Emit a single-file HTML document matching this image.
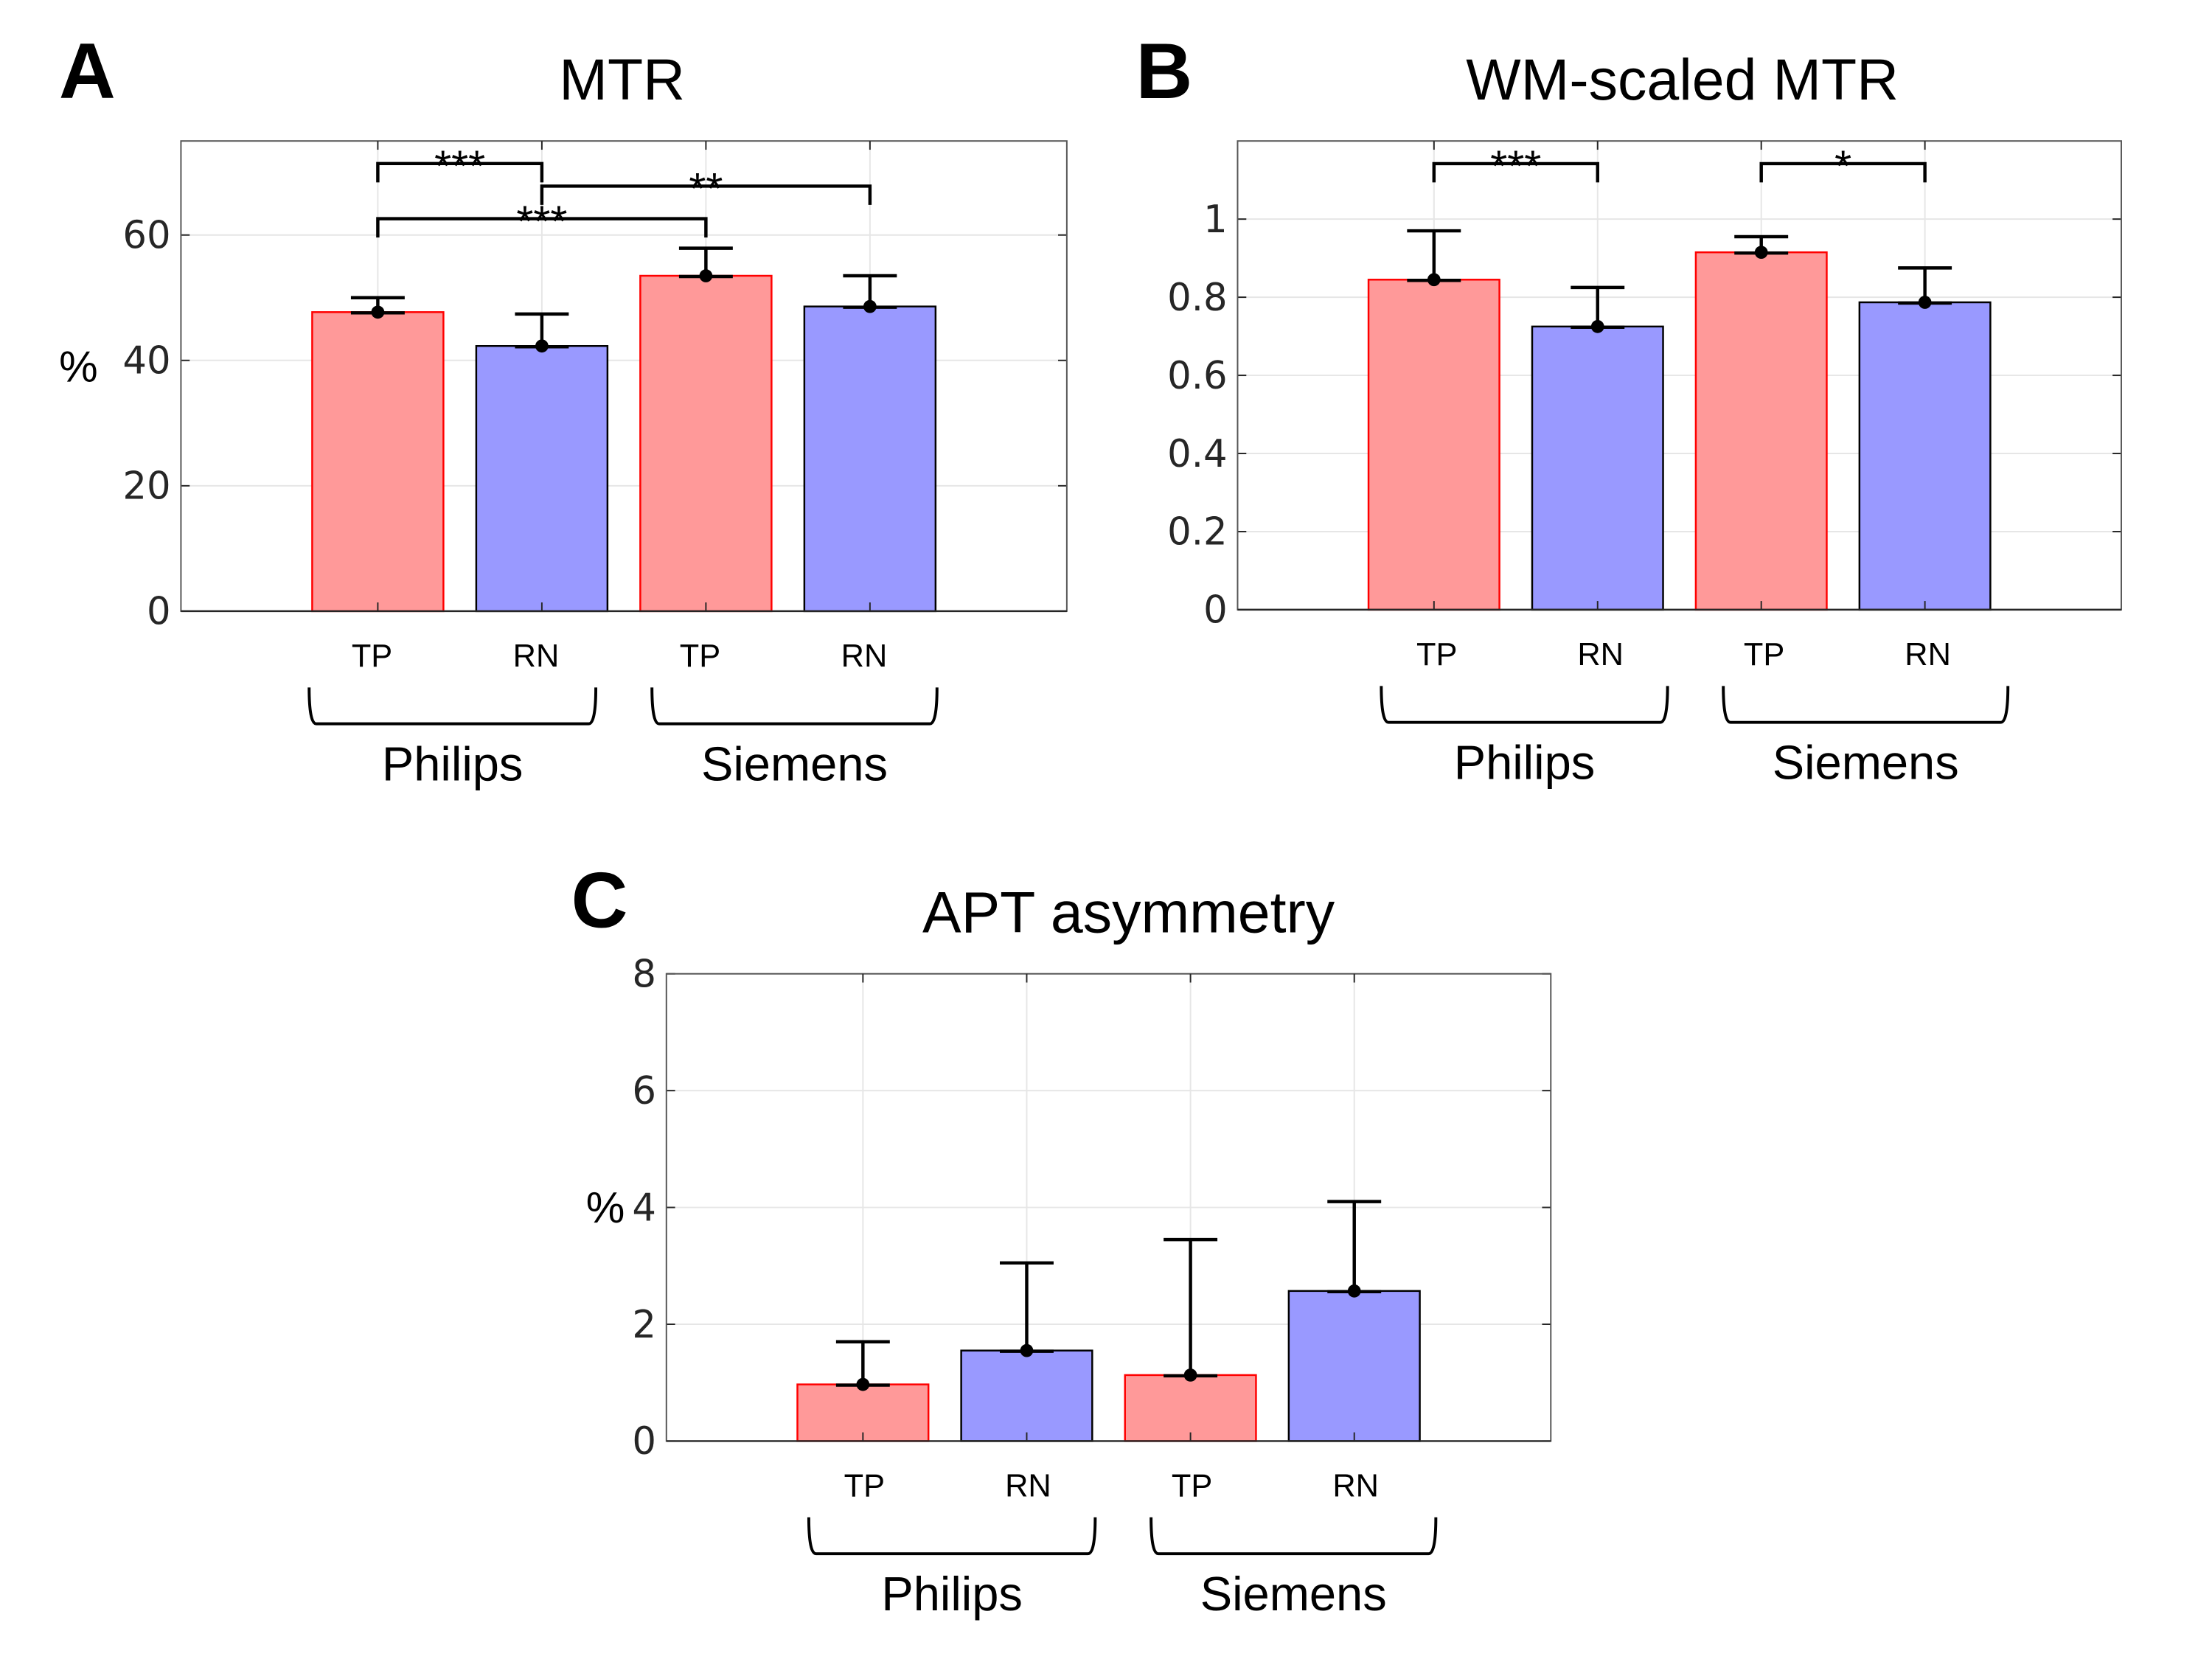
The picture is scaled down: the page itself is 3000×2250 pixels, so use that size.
<!DOCTYPE html>
<html><head><meta charset="utf-8">
<style>
html,body{margin:0;padding:0;background:#fff;}
svg{display:block;}
text{font-family:"Liberation Sans",sans-serif;fill:#000;}
.tick{font-family:"DejaVu Sans","Liberation Sans",sans-serif;fill:#262626;}
</style></head>
<body>
<svg id="fig" width="3000" height="2250" viewBox="0 0 3000 2250" xmlns="http://www.w3.org/2000/svg"><g id="root" transform="scale(0.9856)"></g></svg>
<script>
const categories = ["TP","RN","TP","RN"];
const groups = ["Philips","Siemens"];
const mtrValues = [47.7, 42.3, 53.5, 48.6];
const mtrErrTop = [50.0, 47.4, 57.9, 53.5];
const mtrTicks = [0, 20, 40, 60];
const wmValues = [0.845, 0.725, 0.915, 0.787];
const wmErrTop = [0.97, 0.825, 0.955, 0.875];
const wmTicks = [0, 0.2, 0.4, 0.6, 0.8, 1];
const wmTickLabels = ["0","0.2","0.4","0.6","0.8","1"];
const aptValues = [0.97, 1.55, 1.13, 2.57];
const aptErrTop = [1.7, 3.05, 3.45, 4.1];
const aptTicks = [0, 2, 4, 6, 8];
const mtrSig = [[0,1,71.4,"***"],[1,3,67.8,"**"],[0,2,62.6,"***"]];
const wmSig = [[0,1,1.142,"***"],[2,3,1.142,"*"]];

const NS="http://www.w3.org/2000/svg";
const svg=document.getElementById('root');
function mk(tag,attrs,parent){const e=document.createElementNS(NS,tag);for(const k in attrs)e.setAttribute(k,attrs[k]);(parent||svg).appendChild(e);return e;}

function panel(o){
  const g=mk('g',{});
  
  
  const xs=v=>o.L+(v+0.2)/5.4*(o.R-o.L);
  const ys=v=>o.B-(v/o.ymax)*(o.B-o.T);
  o.ticks.forEach((t,i)=>{
    const y=ys(t);
    if(t>0){const l=mk('line',{x1:o.L,x2:o.R,y1:y,y2:y,stroke:'#e6e6e6','stroke-width':2},g);
      }
    const tk=mk('line',{x1:o.L,x2:o.L+12,y1:y,y2:y,stroke:'#262626','stroke-width':2},g);
    
    mk('line',{x1:o.R,x2:o.R-12,y1:y,y2:y,stroke:'#262626','stroke-width':2},g);
    const tx=mk('text',{x:o.L-14,y:y+18,'text-anchor':'end','font-size':52,class:'tick'},g);
    tx.textContent=o.tickLabels?o.tickLabels[i]:String(t);
    
  });
  categories.forEach((c,i)=>{
    const x=xs(i+1);
    const l=mk('line',{x1:x,x2:x,y1:o.T,y2:o.B,stroke:'#e6e6e6','stroke-width':2},g);
    
  });
  o.values.forEach((v,i)=>{
    const cx=xs(i+1),w=0.8/5.4*(o.R-o.L);
    const red=(i%2===0);
    const r=mk('rect',{x:cx-w/2,y:ys(v),width:w,height:o.B-ys(v),fill:red?'#ff9999':'#9999ff',stroke:red?'#ff0000':'#000','stroke-width':2.5},g);
    
    
  });
  const bx=mk('rect',{x:o.L,y:o.T,width:o.R-o.L,height:o.B-o.T,fill:'none',stroke:'#555','stroke-width':2},g);
  
  mk('line',{x1:o.L,x2:o.R,y1:o.B,y2:o.B,stroke:'#262626','stroke-width':2.5},g);
  categories.forEach((c,i)=>{
    const x=xs(i+1);
    mk('line',{x1:x,x2:x,y1:o.B,y2:o.B-12,stroke:'#262626','stroke-width':2},g);
    mk('line',{x1:x,x2:x,y1:o.T,y2:o.T+12,stroke:'#262626','stroke-width':2},g);
  });
  o.values.forEach((v,i)=>{
    const cx=xs(i+1),yt=ys(o.errTop[i]),yb=ys(v);
    const e=mk('path',{d:`M${cx},${yb}V${yt}M${cx-37},${yt}H${cx+37}M${cx-37},${yb+1}H${cx+37}`,stroke:'#000','stroke-width':4.5,fill:'none'},g);
    
    const d=mk('circle',{cx:cx,cy:yb,r:9,fill:'#000'},g);
    
  });
  (o.sig||[]).forEach(s=>{
    const x1=xs(s[0]+1),x2=xs(s[1]+1),y=ys(s[2]),drop=(o.B-o.T)*0.04;
    const p=mk('path',{d:`M${x1},${y+drop}V${y}H${x2}V${y+drop}`,stroke:'#000','stroke-width':4.5,fill:'none'},g);
    
    const t=mk('text',{x:(x1+x2)/2,y:y+24,'text-anchor':'middle','font-size':60},g);
    t.textContent=s[3];
    
  });
  categories.forEach((c,i)=>{
    const t=mk('text',{x:xs(i+1)-4+o.lshift,y:o.B+76,'text-anchor':'middle','font-size':44},g);
    t.textContent=c;
    
  });
  const sh=o.bshift;
  const gb=[[xs(1)-0.42*225+sh,xs(2)+0.33*225+sh],[xs(3)-0.33*225+sh,xs(4)+0.41*225+sh]];
  gb.forEach((b,k)=>{
    const y1=o.B+105,y2=o.B+155;
    const p=mk('path',{d:`M${b[0]},${y1}Q${b[0]},${y2} ${b[0]+10},${y2}H${b[1]-10}Q${b[1]},${y2} ${b[1]},${y1}`,stroke:'#000','stroke-width':4,fill:'none'},g);
    
    const t=mk('text',{x:(b[0]+b[1])/2,y:o.B+233,'text-anchor':'middle','font-size':66},g);
    t.textContent=groups[k];
    
  });
  const tt=mk('text',{x:o.titleX,y:o.titleY,'text-anchor':'middle','font-size':80},g);
  tt.textContent=o.title;
  const lt=mk('text',{x:o.letterX,y:o.letterY,'text-anchor':'middle','font-size':108,'font-weight':'bold'},g);
  lt.textContent=o.letter;
  if(o.ylabel){
    const yl=mk('text',{x:o.ylx,y:o.yly,'text-anchor':'middle','font-size':60},g);
    yl.textContent='%';
  }
}
panel({name:'panel-a-mtr',L:249,R:1468,T:194,B:841,ymax:75,ticks:mtrTicks,values:mtrValues,errTop:mtrErrTop,sig:mtrSig,bshift:0,lshift:-4,
  title:'MTR',titleX:856,titleY:137,letter:'A',letterX:120,letterY:135,ylabel:true,ylx:108,yly:525});
panel({name:'panel-b-wm-scaled-mtr',L:1703,R:2919,T:194,B:839,ymax:1.2,ticks:wmTicks,tickLabels:wmTickLabels,values:wmValues,errTop:wmErrTop,sig:wmSig,bshift:22,lshift:8,
  title:'WM-scaled MTR',titleX:2315,titleY:137,letter:'B',letterX:1602,letterY:135});
panel({name:'panel-c-apt-asymmetry',L:917,R:2134,T:1340,B:1983,ymax:8,ticks:aptTicks,values:aptValues,errTop:aptErrTop,bshift:20,lshift:6,
  title:'APT asymmetry',titleX:1553,titleY:1283,letter:'C',letterX:825,letterY:1276,ylabel:true,ylx:833,yly:1682});
</script>
</body></html>
